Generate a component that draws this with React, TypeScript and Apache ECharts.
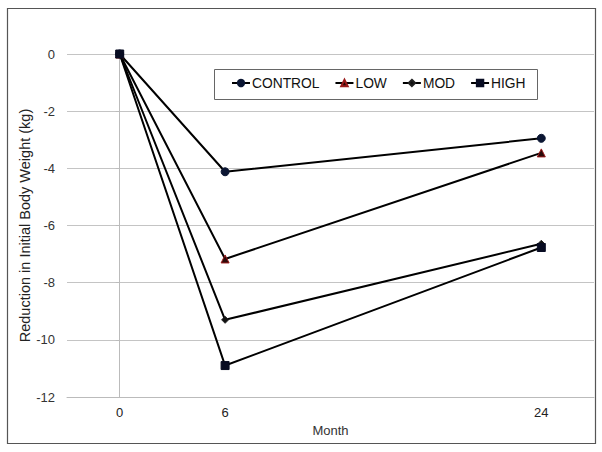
import React, { useEffect, useRef } from "react";
import * as echarts from "echarts";

const months = [0, 6, 24];
const xTickLabels = ["0", "6", "24"];
const seriesNames = ["CONTROL", "LOW", "MOD", "HIGH"];
const controlValues = [0, -4.12, -2.95];
const lowValues = [0, -7.17, -3.46];
const modValues = [0, -9.3, -6.64];
const highValues = [0, -10.9, -6.77];

const seriesValues = [controlValues, lowValues, modValues, highValues];
const markerSymbols = ["circle", "triangle", "diamond", "rect"];
const markerSizes = [8, 8, 7, 8];
const markerFill = ["#0b1633", "#2a0a0a", "#111111", "#080c22"];
const markerBorder = ["#0b1633", "#9a1b1b", "#222222", "#080c22"];

export default function App() {
  const ref = useRef<HTMLDivElement>(null);
  useEffect(() => {
    if (!ref.current) return;
    const chart = echarts.init(ref.current, undefined, { renderer: "svg" });
    const font = "Liberation Sans, Arial, sans-serif";
    chart.setOption({
      animation: false,
      backgroundColor: "#ffffff",
      textStyle: { fontFamily: font },
      grid: { left: 67, right: 8, top: 54, bottom: 55 },
      graphic: [
        {
          type: "rect",
          shape: { x: 7.5, y: 8.5, width: 588, height: 435 },
          style: { fill: "none", stroke: "#555555", lineWidth: 1.2 },
          silent: true,
          z: 0,
        },
        {
          type: "rect",
          shape: { x: 214.5, y: 69.5, width: 323, height: 30 },
          style: { fill: "#ffffff", stroke: "#666666", lineWidth: 1 },
          silent: true,
          z: 5,
        },
      ],
      legend: {
        data: seriesNames,
        left: 231,
        top: 76,
        itemWidth: 18,
        itemHeight: 8,
        itemGap: 15,
        padding: 0,
        z: 10,
        textStyle: { fontFamily: font, fontSize: 13.8, color: "#111", padding: [0, 0, 0, -3] },
      },
      xAxis: {
        type: "value",
        min: -3,
        max: 27,
        interval: 3,
        name: "Month",
        nameLocation: "middle",
        nameGap: 27,
        nameMoveOverlap: false,
        nameTextStyle: { fontSize: 13, color: "#333", fontFamily: font },
        axisLine: { show: true, onZero: false, lineStyle: { color: "#bbbbbb" } },
        axisTick: { show: false },
        splitLine: { show: false },
        axisLabel: {
          margin: 9,
          fontSize: 13,
          color: "#222",
          fontFamily: font,
          formatter: (v: number) => {
            const i = months.indexOf(v);
            return i >= 0 ? xTickLabels[i] : "";
          },
        },
      },
      yAxis: {
        type: "value",
        min: -12,
        max: 0,
        interval: 2,
        name: "Reduction in Initial Body Weight (kg)",
        nameLocation: "middle",
        nameGap: 35,
        nameMoveOverlap: false,
        nameTextStyle: { fontSize: 14.5, color: "#222", fontFamily: font },
        axisLine: { show: true, lineStyle: { color: "#bbbbbb" } },
        axisTick: { show: true, length: 4, lineStyle: { color: "#bbbbbb" } },
        splitLine: { show: true, lineStyle: { color: "#c4c4c4", width: 1 } },
        axisLabel: { margin: 12, fontSize: 13, color: "#333", fontFamily: font },
      },
      series: seriesNames.map((name, i) => ({
        name,
        type: "line",
        data: months.map((m, j) => [m, seriesValues[i][j]]),
        symbol: markerSymbols[i],
        symbolSize: markerSizes[i],
        showAllSymbol: true,
        lineStyle: { color: "#000000", width: 2 },
        itemStyle: { color: markerFill[i], borderColor: markerBorder[i], borderWidth: 1 },
        z: 3 + i,
      })),
    });
    return () => chart.dispose();
  }, []);
  return (
    <div
      ref={ref}
      style={{ position: "absolute", left: 0, top: 0, width: 602, height: 452 }}
    />
  );
}
